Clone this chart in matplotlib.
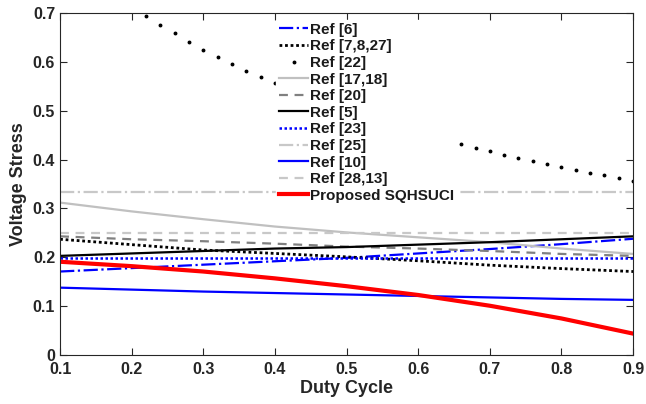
import numpy as np
import matplotlib
matplotlib.use("Agg")
import matplotlib.pyplot as plt

# duty cycle grid used for the smooth curves
duty = [0.1, 0.2, 0.3, 0.4, 0.5, 0.6, 0.7, 0.8, 0.9]

ref6 = [0.171, 0.178, 0.185, 0.192, 0.199, 0.208, 0.217, 0.227, 0.238]
ref7_8_27 = [0.237, 0.226, 0.215, 0.208, 0.201, 0.193, 0.184, 0.177, 0.171]
ref17_18 = [0.312, 0.294, 0.278, 0.263, 0.251, 0.241, 0.231, 0.218, 0.207]
ref20 = [0.243, 0.237, 0.233, 0.228, 0.222, 0.218, 0.213, 0.207, 0.203]
ref5 = [0.203, 0.208, 0.213, 0.218, 0.221, 0.226, 0.231, 0.237, 0.243]
ref23 = [0.199, 0.199, 0.199, 0.199, 0.199, 0.199, 0.199, 0.199, 0.199]
ref25 = [0.333, 0.333, 0.333, 0.333, 0.333, 0.333, 0.333, 0.333, 0.333]
ref10 = [0.138, 0.134, 0.130, 0.127, 0.124, 0.121, 0.118, 0.115, 0.113]
ref28_13 = [0.250, 0.250, 0.250, 0.250, 0.250, 0.250, 0.250, 0.250, 0.250]
proposed = [0.191, 0.182, 0.171, 0.157, 0.141, 0.123, 0.101, 0.075, 0.044]

# Ref [22] is drawn as separate dots every 0.02
duty22 = [0.10, 0.12, 0.14, 0.16, 0.18, 0.20, 0.22, 0.24, 0.26, 0.28,
          0.30, 0.32, 0.34, 0.36, 0.38, 0.40, 0.42, 0.44, 0.46, 0.48,
          0.50, 0.52, 0.54, 0.56, 0.58, 0.60, 0.62, 0.64, 0.66, 0.68,
          0.70, 0.72, 0.74, 0.76, 0.78, 0.80, 0.82, 0.84, 0.86, 0.88, 0.90]
ref22 = [0.833, 0.806, 0.781, 0.758, 0.735, 0.714, 0.694, 0.676, 0.658, 0.641,
         0.625, 0.610, 0.595, 0.581, 0.568, 0.556, 0.543, 0.532, 0.521, 0.510,
         0.500, 0.490, 0.481, 0.472, 0.463, 0.455, 0.446, 0.439, 0.431, 0.424,
         0.417, 0.410, 0.403, 0.397, 0.391, 0.385, 0.379, 0.373, 0.368, 0.362, 0.357]

x_ticks = [0.1, 0.2, 0.3, 0.4, 0.5, 0.6, 0.7, 0.8, 0.9]
y_ticks = [0, 0.1, 0.2, 0.3, 0.4, 0.5, 0.6, 0.7]
y_labels = ["0", "0.1", "0.2", "0.3", "0.4", "0.5", "0.6", "0.7"]

plt.rcParams["font.family"] = ["Liberation Sans", "DejaVu Sans"]
plt.rcParams["font.weight"] = "bold"

fig = plt.figure(figsize=(6.46, 4.04), dpi=100)
ax = fig.add_axes([0.093, 0.121, 0.887, 0.847])

ax.plot(duty, ref6, color="#0000ff", linestyle="-.", lw=1.6, label="Ref [6]")
ax.plot(duty, ref7_8_27, color="black", linestyle=(0, (1, 1)), lw=2, label="Ref [7,8,27]")
ax.plot(duty22, ref22, color="black", linestyle="none", marker="o", markersize=1.8, label="Ref [22]")
ax.plot(duty, ref17_18, color="#c0c0c0", linestyle="-", lw=1.6, label="Ref [17,18]")
ax.plot(duty, ref20, color="#808080", linestyle=(0, (4, 3)), lw=1.6, label="Ref [20]")
ax.plot(duty, ref5, color="black", linestyle="-", lw=1.6, label="Ref [5]")
ax.plot(duty, ref23, color="#0000ff", linestyle=(0, (1, 1)), lw=1.8, label="Ref [23]")
ax.plot(duty, ref25, color="#c8c8c8", linestyle="-.", lw=1.6, label="Ref [25]")
ax.plot(duty, ref10, color="#0000ff", linestyle="-", lw=1.6, label="Ref [10]")
ax.plot(duty, ref28_13, color="#c8c8c8", linestyle=(0, (4, 3)), lw=1.6, label="Ref [28,13]")
ax.plot(duty, proposed, color="#ff0000", linestyle="-", lw=3, label="Proposed SQHSUCI")

ax.set_xlim(0.1, 0.9)
ax.set_ylim(0, 0.7)
ax.set_xticks(x_ticks)
ax.set_yticks(y_ticks)
ax.set_yticklabels(y_labels)
ax.tick_params(direction="in", top=True, right=True, length=5, labelsize=11.5,
               colors="#262626", width=0.8)
ax.tick_params(axis="x", pad=5)
for s in ax.spines.values():
    s.set_color("#262626")
    s.set_linewidth(0.8)

ax.set_xlabel("Duty Cycle", fontsize=13, fontweight="bold", color="#262626", labelpad=2)
ax.set_ylabel("Voltage Stress", fontsize=13, fontweight="bold", color="#262626", labelpad=4)

leg = ax.legend(loc="upper left", bbox_to_anchor=(0.377, 0.98), fontsize=11,
                frameon=True, framealpha=1, edgecolor="white", fancybox=False,
                handlelength=1.9, handletextpad=0.12, labelspacing=0.17,
                borderpad=0.2, borderaxespad=0)
for t in leg.get_texts():
    t.set_fontweight("bold")
    t.set_color("#1a1a1a")

plt.savefig("out.png", dpi=100, facecolor="white")
plt.close()
